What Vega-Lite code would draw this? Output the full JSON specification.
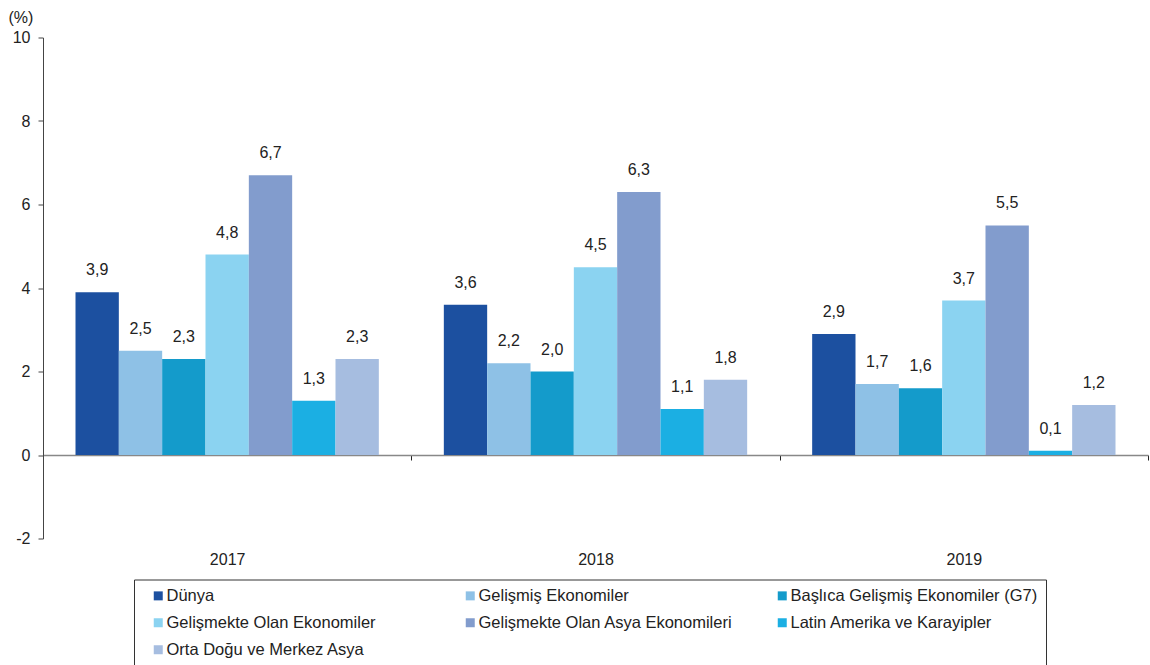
{
  "$schema": "https://vega.github.io/schema/vega-lite/v6.json",
  "width": 1105,
  "height": 501,
  "autosize": {"type": "none"},
  "padding": {"left": 43, "top": 37.5, "right": 2, "bottom": 126},
  "background": "white",
  "config": {
    "view": {"stroke": null},
    "font": "Liberation Sans",
    "locale": {"number": {"decimal": ",", "thousands": ".", "grouping": [3], "currency": ["", ""], "minus": "-"}}
  },
  "data": {
    "values": [
      {"yil": "2017", "grup": "Dünya", "deger": 3.9},
      {"yil": "2017", "grup": "Gelişmiş Ekonomiler", "deger": 2.5},
      {"yil": "2017", "grup": "Başlıca Gelişmiş Ekonomiler (G7)", "deger": 2.3},
      {"yil": "2017", "grup": "Gelişmekte Olan Ekonomiler", "deger": 4.8},
      {"yil": "2017", "grup": "Gelişmekte Olan Asya Ekonomileri", "deger": 6.7},
      {"yil": "2017", "grup": "Latin Amerika ve Karayipler", "deger": 1.3},
      {"yil": "2017", "grup": "Orta Doğu ve Merkez Asya", "deger": 2.3},
      {"yil": "2018", "grup": "Dünya", "deger": 3.6},
      {"yil": "2018", "grup": "Gelişmiş Ekonomiler", "deger": 2.2},
      {"yil": "2018", "grup": "Başlıca Gelişmiş Ekonomiler (G7)", "deger": 2.0},
      {"yil": "2018", "grup": "Gelişmekte Olan Ekonomiler", "deger": 4.5},
      {"yil": "2018", "grup": "Gelişmekte Olan Asya Ekonomileri", "deger": 6.3},
      {"yil": "2018", "grup": "Latin Amerika ve Karayipler", "deger": 1.1},
      {"yil": "2018", "grup": "Orta Doğu ve Merkez Asya", "deger": 1.8},
      {"yil": "2019", "grup": "Dünya", "deger": 2.9},
      {"yil": "2019", "grup": "Gelişmiş Ekonomiler", "deger": 1.7},
      {"yil": "2019", "grup": "Başlıca Gelişmiş Ekonomiler (G7)", "deger": 1.6},
      {"yil": "2019", "grup": "Gelişmekte Olan Ekonomiler", "deger": 3.7},
      {"yil": "2019", "grup": "Gelişmekte Olan Asya Ekonomileri", "deger": 5.5},
      {"yil": "2019", "grup": "Latin Amerika ve Karayipler", "deger": 0.1},
      {"yil": "2019", "grup": "Orta Doğu ve Merkez Asya", "deger": 1.2}
    ]
  },
  "encoding": {
    "x": {
      "field": "yil", "type": "nominal",
      "scale": {"paddingInner": 0, "paddingOuter": 0},
      "axis": {
        "title": null, "orient": "bottom", "offset": -83.5,
        "labelAngle": 0, "labelFontSize": 16, "labelColor": "#222", "labelPadding": 91,
        "domainColor": "#888", "domainWidth": 1.5,
        "tickBand": "extent", "tickExtra": true, "tickColor": "#222", "tickSize": 5
      }
    },
    "xOffset": {
      "field": "grup", "type": "nominal",
      "sort": ["Dünya", "Gelişmiş Ekonomiler", "Başlıca Gelişmiş Ekonomiler (G7)", "Gelişmekte Olan Ekonomiler", "Gelişmekte Olan Asya Ekonomileri", "Latin Amerika ve Karayipler", "Orta Doğu ve Merkez Asya"],
      "scale": {"paddingInner": 0, "paddingOuter": 0.75}
    },
    "y": {
      "field": "deger", "type": "quantitative",
      "scale": {"domain": [-2, 10], "nice": false, "zero": false},
      "axis": {
        "values": [-2, 0, 2, 4, 6, 8, 10], "grid": false,
        "title": "(%)", "titleAngle": 0, "titleAlign": "left", "titleBaseline": "middle",
        "titleX": -35, "titleY": -20, "titleFontSize": 16, "titleFontWeight": "normal", "titleColor": "#222",
        "labelFontSize": 16, "labelColor": "#222", "labelPadding": 8,
        "domainColor": "#444", "tickColor": "#444", "tickSize": 5
      }
    }
  },
  "layer": [
    {
      "mark": {"type": "bar"},
      "encoding": {
        "color": {
          "field": "grup", "type": "nominal",
          "sort": ["Dünya", "Gelişmiş Ekonomiler", "Başlıca Gelişmiş Ekonomiler (G7)", "Gelişmekte Olan Ekonomiler", "Gelişmekte Olan Asya Ekonomileri", "Latin Amerika ve Karayipler", "Orta Doğu ve Merkez Asya"],
          "scale": {"range": ["#1c50a0", "#8ec1e6", "#149bcb", "#8bd3f1", "#829ccd", "#1bafe3", "#a6bde0"]},
          "legend": {
            "title": null, "orient": "none", "legendX": 91, "legendY": 542,
            "direction": "horizontal", "columns": 3, "gridAlign": "all", "columnPadding": 33, "rowPadding": 10,
            "symbolType": "square", "symbolSize": 81, "symbolStrokeWidth": 0, "symbolOffset": 8,
            "labelFontSize": 16.5, "labelColor": "#222", "labelOffset": 0, "labelLimit": 400,
            "strokeColor": "#333", "fillColor": "white", "padding": 8
          }
        }
      }
    },
    {
      "mark": {"type": "text", "dy": -22, "baseline": "middle", "fontSize": 16, "color": "#222"},
      "encoding": {
        "text": {"field": "deger", "type": "quantitative", "format": ".1f"}
      }
    }
  ]
}
